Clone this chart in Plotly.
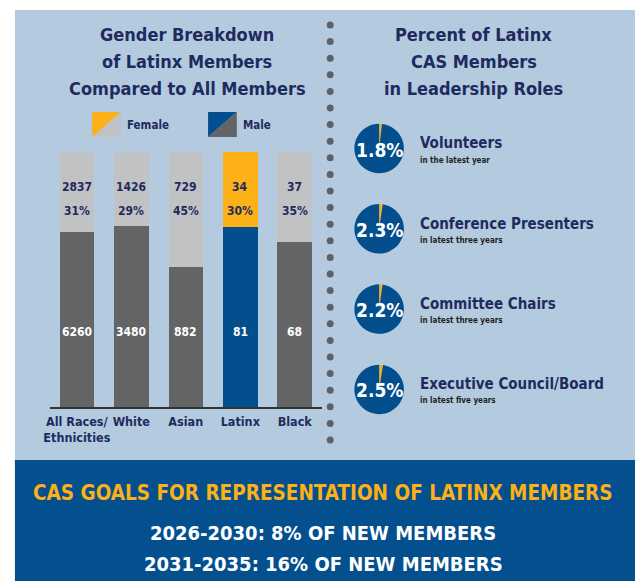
import plotly.graph_objects as go

# ---------------- data ----------------
categories = ["All Races/<br>Ethnicities", "White", "Asian", "Latinx", "Black"]
female_counts = [2837, 1426, 729, 34, 37]
male_counts = [6260, 3480, 882, 81, 68]
highlight = "Latinx"

roles = ["Volunteers", "Conference Presenters", "Committee Chairs", "Executive Council/Board"]
role_periods = ["in the latest year", "in latest three years", "in latest three years", "in latest five years"]
role_pct = [1.8, 2.3, 2.2, 2.5]

left_title = ["Gender Breakdown", "of Latinx Members", "Compared to All Members"]
right_title = ["Percent of Latinx", "CAS Members", "in Leadership Roles"]
goal_title = "CAS GOALS FOR REPRESENTATION OF LATINX MEMBERS"
goal_lines = ["2026-2030: 8% OF NEW MEMBERS", "2031-2035: 16% OF NEW MEMBERS"]

# ---------------- style ----------------
W, H = 635, 581
FONT = "DejaVu Sans Condensed, Liberation Sans Narrow, sans-serif"
PANEL = "#b4cadf"
NAVY = "#1f2b5e"
ORANGE = "#fbb117"
BLUE = "#034f8d"
LGRAY = "#c1c2c4"
DGRAY = "#636466"
BANNER = "#044f8e"


def px(x):
    return x / W


def py(y):
    return 1 - y / H


def note(x, y, text, size, color, xanchor="center", **kw):
    return dict(x=px(x), y=py(y), xref="paper", yref="paper", text=text, showarrow=False,
                xanchor=xanchor, yanchor="middle",
                font=dict(family=FONT, size=size, color=color, weight=700), **kw)


totals = [f + m for f, m in zip(female_counts, male_counts)]
female_frac = [f / t for f, t in zip(female_counts, totals)]
male_frac = [m / t for m, t in zip(male_counts, totals)]
female_colors = [ORANGE if c == highlight else LGRAY for c in categories]
male_colors = [BLUE if c == highlight else DGRAY for c in categories]

fig = go.Figure()
fig.add_trace(go.Bar(x=categories, y=male_frac, marker=dict(color=male_colors, line_width=0),
                     hoverinfo="skip", showlegend=False))
fig.add_trace(go.Bar(x=categories, y=female_frac, marker=dict(color=female_colors, line_width=0),
                     hoverinfo="skip", showlegend=False))

annotations = []
# bar labels
Y_FCOUNT, Y_FPCT, Y_MCOUNT = 0.863, 0.769, 0.294
for c, f, m, fr in zip(categories, female_counts, male_counts, female_frac):
    for yv, txt, col in [(Y_FCOUNT, str(f), NAVY), (Y_FPCT, f"{round(fr * 100)}%", NAVY),
                         (Y_MCOUNT, str(m), "white")]:
        annotations.append(dict(x=c, y=yv, xref="x", yref="y", text=txt, showarrow=False,
                                xanchor="center", yanchor="middle",
                                font=dict(family=FONT, size=12, color=col, weight=700)))

# titles
for k, (lt, rt) in enumerate(zip(left_title, right_title)):
    annotations.append(note(183, 35 + k * 26.5, lt, 18, NAVY))
    annotations.append(note(472, 35 + k * 26.5, rt, 18, NAVY))

# legend
annotations.append(note(120, 125, "Female", 11.5, NAVY, xanchor="left"))
annotations.append(note(237, 125, "Male", 11.5, NAVY, xanchor="left"))

shapes = []
# panel and banner
shapes.append(dict(type="rect", xref="paper", yref="paper", x0=px(9), x1=1, y0=py(460), y1=py(10),
                   fillcolor=PANEL, line_width=0, layer="below"))
shapes.append(dict(type="rect", xref="paper", yref="paper", x0=px(9), x1=1, y0=0, y1=py(460),
                   fillcolor=BANNER, line_width=0, layer="below"))


def tri(pts):
    return "M " + " L ".join(f"{px(a)},{py(b)}" for a, b in pts) + " Z"


for x0, c1, c2 in [(87, ORANGE, LGRAY), (204, BLUE, DGRAY)]:
    x1, y0, y1 = x0 + 29, 112, 137
    shapes.append(dict(type="path", xref="paper", yref="paper", path=tri([(x0, y0), (x1, y0), (x0, y1)]),
                       fillcolor=c1, line_width=0))
    shapes.append(dict(type="path", xref="paper", yref="paper", path=tri([(x1, y0), (x1, y1), (x0, y1)]),
                       fillcolor=c2, line_width=0))

# dotted separator
yy = 25.0
while yy < 445:
    shapes.append(dict(type="circle", xref="paper", yref="paper", x0=px(323.8), x1=px(330.8),
                       y0=py(yy + 3.5), y1=py(yy - 3.5), fillcolor="#5f6062", line_width=0))
    yy += 16.6

# role pies
R = 25
for i, (role, per, pct) in enumerate(zip(roles, role_periods, role_pct)):
    cx, cy = 376.7, 148.5 + i * 80.3
    fig.add_trace(go.Pie(values=[pct, 100 - pct], marker=dict(colors=[ORANGE, BLUE], line=dict(width=0)),
                         sort=False, direction="clockwise", rotation=0, textinfo="none", hoverinfo="skip",
                         showlegend=False,
                         domain=dict(x=[px(cx - R), px(cx + R)], y=[py(cy + R), py(cy - R)])))
    annotations.append(note(cx, cy + 1, f"{pct}%", 19, "white"))
    annotations.append(note(416, cy - 5, role, 15, NAVY, xanchor="left"))
    annotations.append(note(416, cy + 11.5, per, 8, "#231f20", xanchor="left"))

# banner text
annotations.append(note(W / 2 + 3, 493, goal_title, 20.5, ORANGE))
for j, line in enumerate(goal_lines):
    annotations.append(note(W / 2 + 3, 533 + j * 31, line, 20, "white"))

fig.update_layout(
    width=W, height=H, margin=dict(l=0, r=0, t=0, b=0),
    paper_bgcolor="white", plot_bgcolor="rgba(0,0,0,0)",
    barmode="stack", bargap=0.366,
    xaxis=dict(domain=[px(44), px(319)], range=[-0.5, 4.5], type="category",
               showline=True, linecolor="#333333", linewidth=1.5, showgrid=False, zeroline=False,
               ticks="outside", ticklen=2, tickcolor="rgba(0,0,0,0)", tickangle=0,
               tickfont=dict(family=FONT, size=12.5, color=NAVY, weight=700), fixedrange=True),
    yaxis=dict(domain=[py(407), py(152)], range=[0, 1], visible=False, fixedrange=True),
    shapes=shapes, annotations=annotations,
)

fig.write_html("out.html")
